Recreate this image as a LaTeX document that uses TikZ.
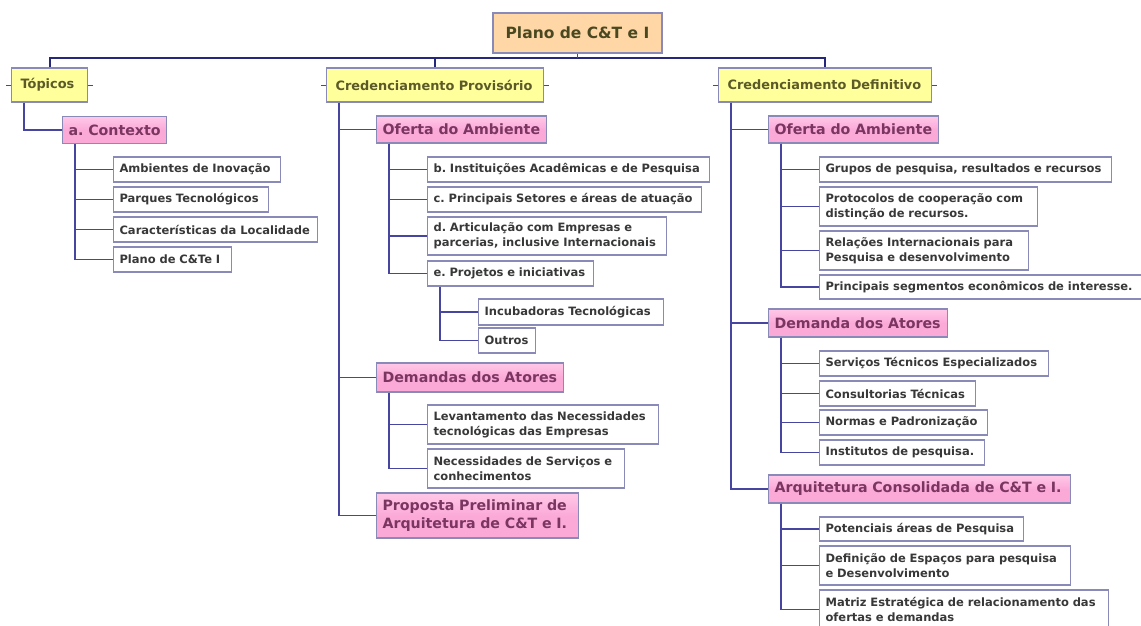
\documentclass[tikz,border=0pt]{standalone}
\usepackage{fontspec}
\setmainfont{DejaVu Sans}
\frenchspacing
\usetikzlibrary{positioning}
\definecolor{lineblue}{HTML}{4646A0}
\definecolor{busblue}{HTML}{26267A}
\definecolor{bord}{HTML}{8A8AB8}
\definecolor{yfill}{HTML}{FFFF9C}
\definecolor{pfill}{HTML}{FBAAD8}
\definecolor{pfilltop}{HTML}{FFC8E8}
\definecolor{ofill}{HTML}{FFD7A6}
\definecolor{ptext}{HTML}{7A3560}
\definecolor{ytext}{HTML}{5C5A28}
\definecolor{wtext}{HTML}{383838}
\tikzset{
  basebox/.style={draw=bord, line width=1.1pt, anchor=west, align=left, inner ysep=0pt, font=\bfseries},
  wbox/.style={basebox, fill=white, inner xsep=6pt, text=wtext, font=\bfseries\fontsize{11.5}{15}\selectfont, minimum height=25pt},
  pbox/.style={basebox, top color=pfilltop, bottom color=pfill, middle color=pfill, inner xsep=6pt, text=ptext, font=\bfseries\fontsize{14.2}{18}\selectfont, minimum height=27pt},
  ybox/.style={basebox, fill=yfill, inner xsep=9pt, text=ytext, font=\bfseries\fontsize{12.9}{15}\selectfont, minimum height=34pt},
  rbox/.style={draw=bord, line width=1.1pt, fill=ofill, text=ytext!80!black, font=\bfseries\fontsize{15.5}{18}\selectfont, minimum width=169pt, minimum height=40pt},
  conn/.style={draw=lineblue, line width=1.1pt},
  busline/.style={draw=busblue, line width=2pt},
}
\begin{document}
\begin{tikzpicture}[x=1pt,y=-1pt]
\useasboundingbox (0,0) rectangle (1141,625);
\clip (0,0) rectangle (1141,625);
% root
\node[rbox] (root) at (577.5,33) {Plano de C\&T e I};
% level 1
\node[ybox, text width=58pt] (tp) at (11,85) {Tópicos};
\node[ybox, text width=199pt] (cp) at (326,85) {Credenciamento Provisório};
\node[ybox, text width=195pt] (cd) at (718,85) {Credenciamento Definitivo};
% Topicos
\node[pbox, text width=92pt] (ctx) at (62,130) {\mbox{a. Contexto}};
\node[wbox, text width=155pt] (amb) at (113,169.5) {Ambientes de Inovação};
\node[wbox, text width=143pt] (parq) at (113,199.5) {Parques Tecnológicos};
\node[wbox, text width=192pt] (carac) at (113,229.5) {Características da Localidade};
\node[wbox, text width=106pt] (plano) at (113,259.5) {Plano de C\&Te I};
% Provisorio
\node[pbox, text width=158pt] (ofp) at (376,129.5) {Oferta do Ambiente};
\node[wbox, text width=270pt] (b) at (427,169.5) {b. Instituições Acadêmicas e de Pesquisa};
\node[wbox, text width=262pt] (c) at (427,199.5) {c. Principais Setores e áreas de atuação};
\node[wbox, text width=227pt, minimum height=38pt] (d) at (427,236) {d. Articulação com Empresas e\\parcerias, inclusive Internacionais};
\node[wbox, text width=154pt] (e) at (427,273.5) {e. Projetos e iniciativas};
\node[wbox, text width=173pt, minimum height=26pt] (incub) at (478,312) {Incubadoras Tecnológicas};
\node[wbox, text width=45pt] (outros) at (478,340.5) {Outros};
\node[pbox, text width=175pt, minimum height=29pt] (dmp) at (376,377.5) {Demandas dos Atores};
\node[wbox, text width=219pt, minimum height=39pt] (lev) at (427,424.5) {Levantamento das Necessidades\\tecnológicas das Empresas};
\node[wbox, text width=185pt, minimum height=39pt] (nec) at (427,468.5) {Necessidades de Serviços e\\conhecimentos};
\node[pbox, text width=190pt, minimum height=45pt] (prop) at (376,515.5) {Proposta Preliminar de\\Arquitetura de C\&T e I.};
% Definitivo
\node[pbox, text width=158pt] (ofd) at (768,129.5) {Oferta do Ambiente};
\node[wbox, text width=280pt] (grp) at (819,169.5) {Grupos de pesquisa, resultados e recursos};
\node[wbox, text width=206pt, minimum height=39pt] (prot) at (819,206.5) {Protocolos de cooperação com\\distinção de recursos.};
\node[wbox, text width=197pt, minimum height=39pt] (rel) at (819,250.5) {Relações Internacionais para\\Pesquisa e desenvolvimento};
\node[wbox, text width=310pt, minimum height=24pt] (princ) at (819,287) {Principais segmentos econômicos de interesse.};
\node[pbox, text width=167pt, minimum height=28pt] (dmd) at (768,323) {Demanda dos Atores};
\node[wbox, text width=217pt] (serv) at (819,363.5) {Serviços Técnicos Especializados};
\node[wbox, text width=144pt] (cons) at (819,393.5) {Consultorias Técnicas};
\node[wbox, text width=156pt] (norm) at (819,422.5) {Normas e Padronização};
\node[wbox, text width=153pt] (inst) at (819,452.5) {Institutos de pesquisa.};
\node[pbox, text width=290pt, minimum height=28pt] (arq) at (768,489) {Arquitetura Consolidada de C\&T e I.};
\node[wbox, text width=192pt, minimum height=24pt] (pot) at (819,529) {Potenciais áreas de Pesquisa};
\node[wbox, text width=239pt, minimum height=39pt] (def) at (819,565.5) {Definição de Espaços para pesquisa\\e Desenvolvimento};
\node[wbox, text width=277pt, minimum height=39pt] (mat) at (819,609.5) {Matriz Estratégica de relacionamento das\\ofertas e demandas};
% bus
\coordinate (busR) at (cd.north |- 0,58);
\draw[busline] (tp.north) |- (busR) -- (cd.north);
\draw[busline] (cp.north) -- (cp.north |- busR);
\draw[conn] (root.south) -- (root.south |- busR);
% side stubs on yellow nodes
\foreach \n in {tp,cp,cd}{
  \draw[conn, line width=0.8pt] (\n.west) -- ++(-5,0);
  \draw[conn, line width=0.8pt] (\n.east) -- ++(5,0);
}
% tree connectors
\foreach \p/\c in {tp/ctx, ctx/amb, ctx/parq, ctx/carac, ctx/plano,
  cp/ofp, cp/dmp, cp/prop, ofp/b, ofp/c, ofp/d, ofp/e, e/incub, e/outros, dmp/lev, dmp/nec,
  cd/ofd, cd/dmd, cd/arq, ofd/grp, ofd/prot, ofd/rel, ofd/princ,
  dmd/serv, dmd/cons, dmd/norm, dmd/inst, arq/pot, arq/def, arq/mat}{
  \draw[conn] ([xshift=13pt]\p.south west) |- (\c.west);
}
\end{tikzpicture}
\end{document}
